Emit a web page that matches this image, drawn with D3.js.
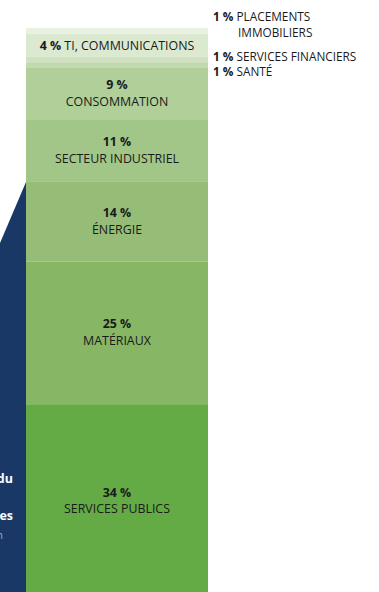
<!DOCTYPE html>
<html>
<head>
<meta charset="utf-8">
<script src="https://cdn.jsdelivr.net/npm/d3@7"></script>
<style>
  body { margin: 0; background: #fff; }
  svg { display: block; font-family: "Open Sans", "Noto Sans", sans-serif; }
</style>
</head>
<body>
<svg id="chart" width="379" height="592"></svg>
<script>
// sectors from top to bottom of the stacked bar
const sectors = ["PLACEMENTS IMMOBILIERS", "TI, COMMUNICATIONS", "SERVICES FINANCIERS", "SANTÉ",
  "CONSOMMATION", "SECTEUR INDUSTRIEL", "ÉNERGIE", "MATÉRIAUX", "SERVICES PUBLICS"];
const shares = [1, 4, 1, 1, 9, 11, 14, 25, 34];
const colors = ["#e9f1e3", "#dce9d1", "#cfe1c1", "#c2d9b0", "#b0cf99", "#a2c688", "#95bd78", "#87b665", "#64aa45"];
// where each label goes: inside (two lines), inline (one line) or outside (right)
const labelModes = ["outside", "inline", "outside", "outside", "inside", "inside", "inside", "inside", "inside"];

const width = 379, height = 592;
const fontSize = 12.4;
const svg = d3.select("#chart");

let acc = 0;
const data = sectors.map((s, i) => {
  const d = { name: s, value: shares[i], color: colors[i], mode: labelModes[i], y0: acc };
  acc += shares[i];
  d.y1 = acc;
  return d;
});

const y = d3.scaleLinear().domain([0, 100]).range([28, 598]);
const x = d3.scaleBand().domain(["bar"]).range([26, 208]).padding(0);

// dark blue panel edge on the left
svg.append("path")
  .attr("d", `M0,243 L${x("bar")},182 L${x("bar")},${height} L0,${height} Z`)
  .attr("fill", "#1a3866");

const leftText = svg.append("g")
  .attr("fill", "#fff")
  .attr("font-weight", "bold")
  .attr("font-size", 12.5)
  .attr("text-anchor", "end");
leftText.append("text").attr("x", 13).attr("y", 483).text("du");
leftText.append("text").attr("x", 13).attr("y", 520).text("es");
svg.append("text").attr("x", 3).attr("y", 539).attr("text-anchor", "end")
  .attr("fill", "#8fb0d6").attr("font-size", 11).text("n");

svg.append("g")
  .selectAll("rect")
  .data(data)
  .join("rect")
  .attr("x", x("bar"))
  .attr("width", x.bandwidth())
  .attr("y", d => y(d.y0))
  .attr("height", d => y(d.y1) - y(d.y0))
  .attr("fill", d => d.color);

const cx = x("bar") + x.bandwidth() / 2;
const mid = d => (y(d.y0) + y(d.y1)) / 2;

const inside = svg.append("g")
  .attr("font-size", fontSize)
  .attr("fill", "#1a1a1a")
  .attr("text-anchor", "middle")
  .selectAll("g")
  .data(data.filter(d => d.mode === "inside"))
  .join("g");

inside.append("text")
  .attr("x", cx)
  .attr("y", d => mid(d) - 4.5)
  .attr("font-weight", "bold")
  .text(d => `${d.value} %`);

inside.append("text")
  .attr("x", cx)
  .attr("y", d => mid(d) + 12)
  .text(d => d.name);

const inline = svg.append("g")
  .attr("font-size", fontSize)
  .attr("fill", "#1a1a1a")
  .attr("text-anchor", "middle")
  .selectAll("text")
  .data(data.filter(d => d.mode === "inline"))
  .join("text")
  .attr("x", cx)
  .attr("y", d => mid(d) + 4.5);
inline.append("tspan").attr("font-weight", "bold").text(d => `${d.value} % `);
inline.append("tspan").text(d => d.name);

// small sectors labelled to the right of the bar
const outsideY = [20.5, null, 60.5, 75.5];
const outside = svg.append("g")
  .attr("font-size", 11.8)
  .attr("fill", "#1a1a1a")
  .selectAll("text")
  .data(data.filter(d => d.mode === "outside"))
  .join("text")
  .attr("x", 213)
  .attr("y", d => outsideY[sectors.indexOf(d.name)]);

outside.append("tspan").attr("font-weight", "bold").text(d => `${d.value} % `);
outside.append("tspan").text(d => d.name === "PLACEMENTS IMMOBILIERS" ? "PLACEMENTS" : d.name);
outside.filter(d => d.name === "PLACEMENTS IMMOBILIERS")
  .append("tspan").attr("x", 238).attr("dy", 16).text("IMMOBILIERS");
</script>
</body>
</html>
